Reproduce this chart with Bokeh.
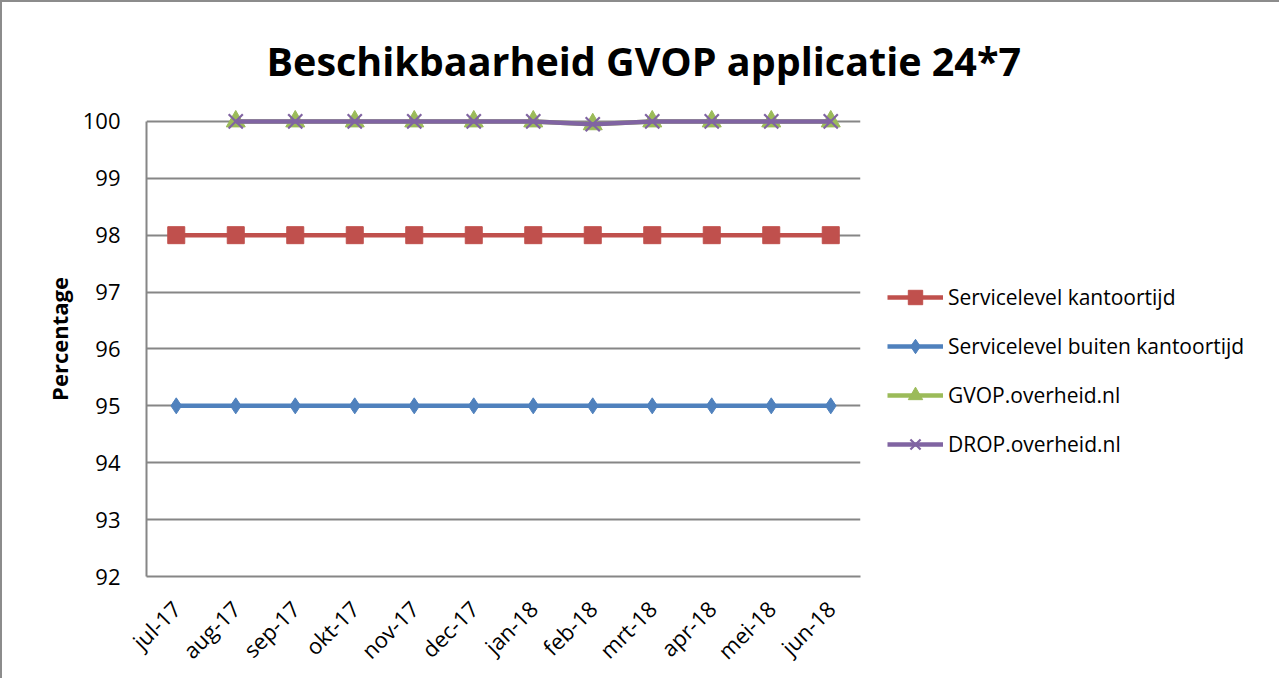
from bokeh.plotting import figure
from bokeh.models import Legend, LegendItem, Title, FactorRange, FixedTicker
from bokeh.embed import file_html
from bokeh.resources import INLINE
import math

months = ["jul-17", "aug-17", "sep-17", "okt-17", "nov-17", "dec-17",
          "jan-18", "feb-18", "mrt-18", "apr-18", "mei-18", "jun-18"]
kantoortijd = [98, 98, 98, 98, 98, 98, 98, 98, 98, 98, 98, 98]
buiten_kantoortijd = [95, 95, 95, 95, 95, 95, 95, 95, 95, 95, 95, 95]
gvop = [float("nan"), 100, 100, 100, 100, 100, 100, 99.95, 100, 100, 100, 100]
drop = [float("nan"), 100, 100, 100, 100, 100, 100, 99.95, 100, 100, 100, 100]
y_ticks = [92, 93, 94, 95, 96, 97, 98, 99, 100]

FONT = "Open Sans"

p = figure(frame_width=714, frame_height=475, x_range=FactorRange(*months), y_range=(92, 100.35),
           output_backend="svg", toolbar_location=None,
           min_border_left=144, min_border_right=0, min_border_top=99, min_border_bottom=90)

p.add_layout(Title(text="Beschikbaarheid GVOP applicatie 24*7", text_font=FONT,
                   text_font_size="39.5px", text_font_style="bold", text_color="black",
                   align="left", offset=120, standoff=28), "above")

red, blue, green, purple = "#C0504D", "#4F81BD", "#9BBB59", "#8064A2"

r1l = p.line(months, kantoortijd, line_color=red, line_width=4.5)
r1m = p.scatter(months, kantoortijd, marker="square", size=17, fill_color=red, line_color=red)
r2l = p.line(months, buiten_kantoortijd, line_color=blue, line_width=4.5)
r2m = p.scatter(months, buiten_kantoortijd, marker="diamond", size=16, fill_color=blue, line_color=blue)
r3l = p.line(months, gvop, line_color=green, line_width=4.5)
r3m = p.scatter(months, gvop, marker="triangle", size=19, fill_color=green, line_color=green)
r4l = p.line(months, drop, line_color=purple, line_width=4.5)
r4m = p.scatter(months, drop, marker="x", size=20, line_color=purple, line_width=2.2)

legend = Legend(items=[
    LegendItem(label="Servicelevel kantoortijd", renderers=[r1l, r1m]),
    LegendItem(label="Servicelevel buiten kantoortijd", renderers=[r2l, r2m]),
    LegendItem(label="GVOP.overheid.nl", renderers=[r3l, r3m]),
    LegendItem(label="DROP.overheid.nl", renderers=[r4l, r4m]),
], location=(27, 114), border_line_color=None, background_fill_alpha=0,
    padding=0, margin=0, glyph_width=56, glyph_height=36, spacing=13,
    label_text_font=FONT, label_text_font_size="21px", label_standoff=5,
    label_text_color="black")
p.add_layout(legend, "right")

p.yaxis.ticker = FixedTicker(ticks=y_ticks)
p.yaxis.bounds = (92, 100)
p.yaxis.major_label_text_font = FONT
p.yaxis.major_label_text_font_size = "22px"
p.yaxis.major_label_text_color = "black"
p.yaxis.major_tick_line_color = None
p.yaxis.minor_tick_line_color = None
p.yaxis.axis_line_color = "#868686"
p.yaxis.axis_line_width = 2
p.yaxis.major_label_standoff = 20
p.yaxis.axis_label = "Percentage"
p.yaxis.axis_label_text_font = FONT
p.yaxis.axis_label_text_font_size = "22px"
p.yaxis.axis_label_text_font_style = "bold"
p.yaxis.axis_label_text_color = "black"
p.yaxis.axis_label_standoff = 6

p.xaxis.major_label_orientation = math.pi / 4
p.xaxis.major_label_text_font = FONT
p.xaxis.major_label_text_font_size = "22px"
p.xaxis.major_label_text_color = "black"
p.xaxis.major_tick_line_color = None
p.xaxis.axis_line_color = "#868686"
p.xaxis.axis_line_width = 2
p.xaxis.major_label_standoff = 22

p.xgrid.grid_line_color = None
p.ygrid.grid_line_color = "#868686"
p.ygrid.grid_line_width = 2
p.outline_line_color = None
p.background_fill_color = "white"
p.border_fill_color = "white"
p.styles = {"border-left": "2px solid #8c8c8c", "border-top": "2px solid #8c8c8c"}

open("out.html", "w").write(file_html(p, INLINE))
